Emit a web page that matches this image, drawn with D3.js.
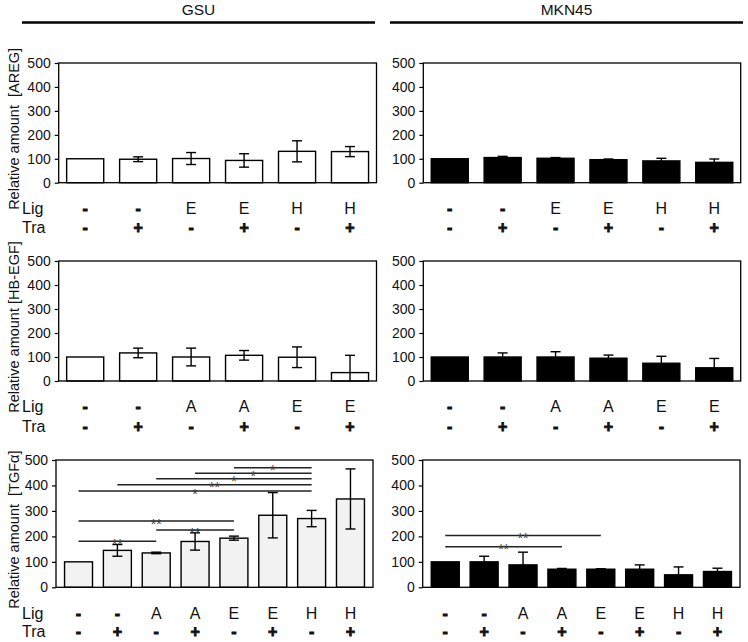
<!DOCTYPE html>
<html><head><meta charset="utf-8">
<script src="https://cdn.jsdelivr.net/npm/d3@7"></script>
<style>
html,body{margin:0;padding:0;background:#fff;}
text{font-family:Arial,"Liberation Sans",sans-serif;}
</style></head>
<body><svg id="c" width="748" height="642"></svg>
<script>
// ---------- DATA ----------
const cellLines = ["GSU", "MKN45"];
const ligAREG = ["-", "-", "E", "E", "H", "H"];
const traAREG = ["-", "+", "-", "+", "-", "+"];
const aregGSU = [100, 98, 101, 93, 131, 130];
const aregGSUErr = [0, 10, 25, 28, 44, 21];
const aregMKN = [100, 105, 102, 96, 91, 85];
const aregMKNErr = [0, 5, 3, 3, 11, 14];

const ligHB = ["-", "-", "A", "A", "E", "E"];
const traHB = ["-", "+", "-", "+", "-", "+"];
const hbGSU = [100, 117, 100, 107, 99, 35];
const hbGSUErr = [0, 20, 37, 20, 43, 72];
const hbMKN = [100, 100, 100, 95, 74, 55];
const hbMKNErr = [0, 17, 22, 13, 29, 39];

const ligTGF = ["-", "-", "A", "A", "E", "E", "H", "H"];
const traTGF = ["-", "+", "-", "+", "-", "+", "-", "+"];
const tgfGSU = [100, 145, 135, 180, 193, 283, 270, 347];
const tgfGSUErr = [0, 23, 3, 34, 8, 89, 32, 118];
const tgfMKN = [100, 100, 88, 71, 71, 71, 49, 62];
const tgfMKNErr = [0, 22, 50, 3, 2, 17, 31, 13];

// significance brackets: [fromIndex, toIndex, level, label]
const sigGSU = [[0,2,181,"**"],[2,4,225,"**"],[0,4,260,"**"],[0,6,378,"*"],[1,6,403,"**"],[2,6,426,"*"],[3,6,448,"*"],[4,6,470,"*"]];
const sigMKN = [[0,3,159,"**"],[0,4,203,"**"]];

const yTicks = [0, 100, 200, 300, 400, 500];
const yLabels = ["Relative amount\u00a0\u00a0[AREG]", "Relative amount [HB-EGF]", "Relative amount\u00a0\u00a0[TGF\u03b1]"];
const rowNames = ["Lig", "Tra"];

// ---------- DRAW ----------
const svg = d3.select("#c");

const headers = [{x0:22, x1:375}, {x0:390, x1:743}];
cellLines.forEach((c,i)=>{
  const h = headers[i];
  svg.append("text").attr("x",(h.x0+h.x1)/2).attr("y",15).attr("text-anchor","middle")
     .attr("font-size",15.5).attr("fill","#111").text(c);
  svg.append("line").attr("x1",h.x0).attr("x2",h.x1).attr("y1",22.5).attr("y2",22.5)
     .attr("stroke","#000").attr("stroke-width",2.4);
});

function panel(o){
  const x = d3.scaleBand().domain(d3.range(o.vals.length)).range([o.x0,o.x1])
     .paddingInner(o.pi).paddingOuter(o.po);
  const y = d3.scaleLinear().domain([0,500]).range([o.y1,o.y0]);
  const g = svg.append("g");
  const ax = g.append("g").attr("transform",`translate(${o.x0},0)`)
     .call(d3.axisLeft(y).tickValues(yTicks).tickSize(4).tickSizeOuter(0).tickPadding(4));
  ax.select(".domain").remove();
  ax.selectAll("line").attr("stroke","#000").attr("stroke-width",1.2);
  ax.selectAll("text").attr("font-size",14).attr("fill","#111")
     .attr("font-family","Arial, 'Liberation Sans', sans-serif");
  g.selectAll("rect.bar").data(o.vals).join("rect").attr("class","bar")
    .attr("x",(d,i)=>x(i)).attr("width",x.bandwidth())
    .attr("y",d=>y(d)).attr("height",d=>y(0)-y(d))
    .attr("fill",o.fill).attr("stroke","#000").attr("stroke-width",1.4);
  o.errs.forEach((e,i)=>{
    if(!e) return;
    const cx = x(i)+x.bandwidth()/2, v=o.vals[i];
    const top=y(v+e), bot=y(Math.max(0,v-e));
    g.append("line").attr("x1",cx).attr("x2",cx).attr("y1",top).attr("y2",bot)
      .attr("stroke","#000").attr("stroke-width",1.4);
    g.append("line").attr("x1",cx-5).attr("x2",cx+5).attr("y1",top).attr("y2",top)
      .attr("stroke","#000").attr("stroke-width",1.4);
    if(bot < y(0)-0.5)
      g.append("line").attr("x1",cx-5).attr("x2",cx+5).attr("y1",bot).attr("y2",bot)
        .attr("stroke","#000").attr("stroke-width",1.4);
  });
  g.append("rect").attr("x",o.x0).attr("y",o.y0).attr("width",o.x1-o.x0).attr("height",o.y1-o.y0)
    .attr("fill","none").attr("stroke","#000").attr("stroke-width",1.3);
  (o.sig||[]).forEach(s=>{
    const a = x(s[0])+x.bandwidth()/2, b = x(s[1])+x.bandwidth()/2, yy=y(s[2]);
    g.append("line").attr("x1",a).attr("x2",b).attr("y1",yy).attr("y2",yy)
      .attr("stroke","#222").attr("stroke-width",1.5);
    g.append("text").attr("x",(a+b)/2).attr("y",yy+7.5).attr("text-anchor","middle")
      .attr("font-size",14).attr("fill","#333").text(s[3]);
  });
  const rows=[o.lig,o.tra];
  rows.forEach((r,ri)=>{
    const by = o.y1 + o.rowOff[ri];
    r.forEach((t,i)=>{
      const sym = (t==="-"||t==="+");
      const tx = g.append("text").attr("x",x(i)+x.bandwidth()/2).attr("y",by).attr("text-anchor","middle")
        .attr("font-size",16).attr("font-weight",sym?"bold":"normal")
        .attr("fill","#111").text(t);
      if(sym) tx.attr("stroke","#111").attr("stroke-width",0.8);
    });
    if(o.left){
      g.append("text").attr("x",22).attr("y",by).attr("font-size",16).attr("fill","#111").text(rowNames[ri]);
    }
  });
  if(o.left){
    g.append("text").attr("transform",`translate(19,${(o.y0+o.y1)/2+6}) rotate(-90)`)
      .attr("text-anchor","middle").attr("font-size",14.5).attr("fill","#111")
      .style("white-space","pre").text(o.ylabel);
  }
}

const WHITE="#ffffff", BLACK="#000000", LIGHT="#f2f2f2";
const r12=[31,50.5], r3=[32,50];
panel({x0:58.7,x1:376.5,y0:63,y1:182.7,pi:0.3,po:0.15,vals:aregGSU,errs:aregGSUErr,fill:WHITE,lig:ligAREG,tra:traAREG,left:true,ylabel:yLabels[0],rowOff:r12});
panel({x0:423.3,x1:740.7,y0:63,y1:182.7,pi:0.3,po:0.15,vals:aregMKN,errs:aregMKNErr,fill:BLACK,lig:ligAREG,tra:traAREG,rowOff:r12});
panel({x0:58.7,x1:376.5,y0:261,y1:381,pi:0.3,po:0.15,vals:hbGSU,errs:hbGSUErr,fill:WHITE,lig:ligHB,tra:traHB,left:true,ylabel:yLabels[1],rowOff:r12});
panel({x0:423.3,x1:740.7,y0:261,y1:381,pi:0.3,po:0.15,vals:hbMKN,errs:hbMKNErr,fill:BLACK,lig:ligHB,tra:traHB,rowOff:r12});
panel({x0:56,x1:373,y0:460,y1:587.3,pi:0.28,po:0.22,vals:tgfGSU,errs:tgfGSUErr,fill:LIGHT,lig:ligTGF,tra:traTGF,left:true,ylabel:yLabels[2],sig:sigGSU,rowOff:r3});
panel({x0:422.7,x1:740,y0:460,y1:587.3,pi:0.28,po:0.22,vals:tgfMKN,errs:tgfMKNErr,fill:BLACK,lig:ligTGF,tra:traTGF,sig:sigMKN,rowOff:r3});
</script></body></html>
